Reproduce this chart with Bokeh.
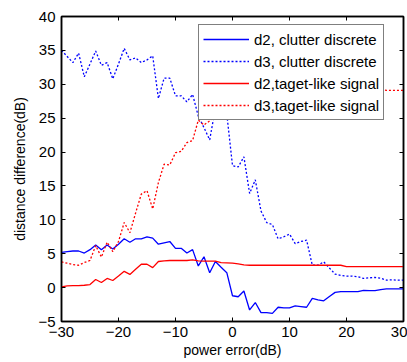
from bokeh.plotting import figure
from bokeh.models import Range1d, LinearAxis, FixedTicker, Legend, LegendItem
from bokeh.embed import file_html
from bokeh.resources import INLINE

power_error = list(range(-30, 31))

d2_clutter = [5.2, 5.3, 5.4, 5.4, 5.1, 5.6, 6.3, 5.6, 6.3, 5.7,
              6.4, 7.2, 6.7, 7.2, 7.2, 7.5, 7.3, 6.4, 6.6, 6.8,
              5.8, 5.8, 5.1, 5.6, 3.2, 4.55, 2.2, 3.85, 3.0, 2.2,
              -1.2, -1.35, -0.5, -3.3, -2.2, -3.7, -3.7, -3.8, -2.9, -3.0,
              -3.0, -2.7, -2.8, -2.9, -1.6, -1.8, -1.95, -1.3, -0.7, -0.6,
              -0.6, -0.6, -0.6, -0.4, -0.45, -0.45, -0.3, -0.2, -0.2, -0.2, -0.2]

d3_clutter = [35.0, 34.1, 33.2, 34.6, 31.1, 33.0, 34.9, 32.8, 33.2, 30.8,
              33.0, 35.3, 33.6, 33.9, 33.2, 33.6, 34.2, 27.9, 30.9, 30.9,
              28.3, 28.3, 27.4, 28.5, 25.3, 23.6, 21.8, 26.5, 27.5, 25.6,
              18.0, 17.8, 19.3, 13.9, 15.9, 11.3, 9.6, 9.3, 7.2, 7.5,
              7.9, 6.5, 6.8, 7.0, 3.3, 3.3, 3.8, 2.9, 2.0, 1.8,
              1.7, 1.7, 1.6, 1.35, 1.45, 1.5, 1.4, 1.1, 1.15, 1.1, 1.1]

d2_target = [0.1, 0.25, 0.3, 0.3, 0.35, 0.45, 1.2, 0.75, 1.35, 1.05,
             1.7, 2.4, 1.95, 2.7, 3.45, 3.45, 2.95, 3.85, 3.95, 4.0,
             4.0, 4.0, 4.0, 4.1, 3.95, 3.9, 3.9, 3.9, 3.7, 3.65,
             3.6, 3.5, 3.35, 3.3, 3.3, 3.3, 3.3, 3.3, 3.3, 3.3,
             3.3, 3.3, 3.3, 3.3, 3.3, 3.3, 3.3, 3.3, 3.3, 3.3,
             3.1, 3.1, 3.1, 3.1, 3.1, 3.1, 3.1, 3.1, 3.1, 3.1, 3.1]

d3_target = [3.8, 3.6, 3.4, 3.3, 3.7, 4.0, 6.2, 4.5, 6.7, 5.3,
             6.8, 9.6, 8.1, 11.0, 13.8, 14.3, 11.6, 15.5, 18.2, 18.1,
             19.9, 20.1, 21.4, 21.7, 24.7, 24.0, 24.6, 25.3, 25.8, 26.5,
             27.1, 27.0, 27.6, 27.9, 28.2, 28.0, 28.4, 28.6, 28.5, 28.8,
             28.9, 28.7, 29.0, 29.1, 28.9, 29.0, 29.2, 29.1, 29.0, 29.2,
             29.1, 29.2, 29.1, 29.2, 29.1, 29.1, 29.2, 29.1, 29.1, 29.1, 29.1]

x_ticks = [-30, -20, -10, 0, 10, 20, 30]
y_ticks = [-5, 0, 5, 10, 15, 20, 25, 30, 35, 40]

labels = ["d2, clutter discrete", "d3, clutter discrete",
          "d2,taget-like signal", "d3,taget-like signal"]

FONT = "Liberation Sans"

p = figure(width=407, height=362, x_range=Range1d(-30, 30), y_range=Range1d(-5, 40),
           output_backend="svg", toolbar_location=None,
           min_border_left=61, min_border_right=4, min_border_top=16, min_border_bottom=41)
p.grid.visible = False
p.outline_line_color = "black"
p.outline_line_width = 1.5
p.background_fill_color = "white"
p.border_fill_color = "white"

def style_axis(ax, ticks, show_labels):
    ax.ticker = FixedTicker(ticks=ticks)
    ax.major_tick_in = 4
    ax.major_tick_out = 0
    ax.minor_tick_line_color = None
    ax.axis_line_color = "black"
    ax.axis_line_width = 1.5
    ax.major_tick_line_color = "black"
    ax.major_tick_line_width = 1
    if show_labels:
        ax.major_label_text_font = FONT
        ax.major_label_text_font_size = "15px"
        ax.major_label_text_color = "black"
        ax.axis_label_text_font = FONT
        ax.axis_label_text_font_size = "14px"
        ax.axis_label_text_font_style = "normal"
        ax.axis_label_text_color = "black"
    else:
        ax.major_label_text_color = None
        ax.major_label_text_font_size = "1px"
        ax.major_label_standoff = 0

xa = p.xaxis[0]
ya = p.yaxis[0]
style_axis(xa, x_ticks, True)
style_axis(ya, y_ticks, True)
xa.axis_label = "power error(dB)"
ya.axis_label = "distance difference(dB)"
xa.major_label_standoff = 5
ya.major_label_standoff = 6
xa.axis_label_standoff = 2
ya.axis_label_standoff = 7

top_ax = LinearAxis()
style_axis(top_ax, x_ticks, False)
p.add_layout(top_ax, "above")
right_ax = LinearAxis()
style_axis(right_ax, y_ticks, False)
p.add_layout(right_ax, "right")

r1 = p.line(power_error, d2_clutter, line_color="#0000ff", line_width=1.3)
r2 = p.line(power_error, d3_clutter, line_color="#0000ff", line_width=1.3, line_dash="2 2")
r3 = p.line(power_error, d2_target, line_color="#ff0000", line_width=1.3)
r4 = p.line(power_error, d3_target, line_color="#ff0000", line_width=1.3, line_dash="2 2")

legend = Legend(items=[LegendItem(label=labels[0], renderers=[r1]),
                       LegendItem(label=labels[1], renderers=[r2]),
                       LegendItem(label=labels[2], renderers=[r3]),
                       LegendItem(label=labels[3], renderers=[r4])],
                location=(137, 201))
legend.border_line_color = "black"
legend.border_line_width = 1.5
legend.background_fill_color = "white"
legend.background_fill_alpha = 1.0
legend.padding = 4
legend.spacing = 2
legend.margin = 0
legend.glyph_width = 46
legend.glyph_height = 20
legend.label_height = 20
legend.label_standoff = 5
legend.label_text_font = FONT
legend.label_text_font_size = "15px"
legend.label_text_color = "black"
p.add_layout(legend)

open("out.html", "w").write(file_html(p, INLINE))
